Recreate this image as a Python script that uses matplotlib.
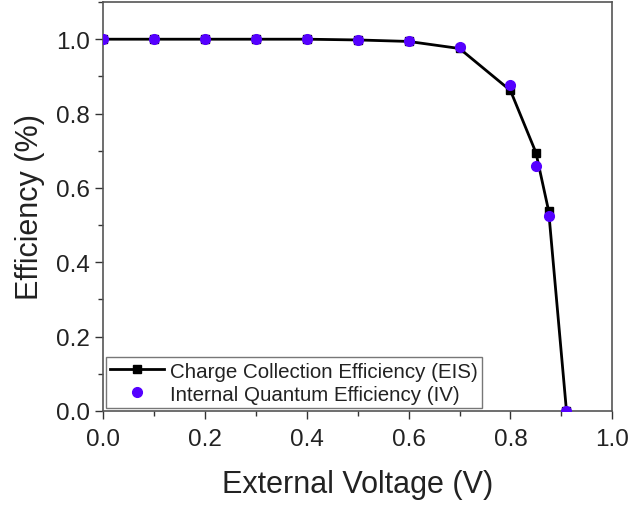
import matplotlib.pyplot as plt
from matplotlib.ticker import MultipleLocator

plt.rcParams['font.family'] = ['Liberation Sans', 'DejaVu Sans']

# charge collection efficiency from EIS
voltage_cce = [0.0, 0.1, 0.2, 0.3, 0.4, 0.5, 0.6, 0.7, 0.8, 0.85, 0.875, 0.91]
cce = [1.0, 1.0, 1.0, 1.0, 1.0, 0.998, 0.994, 0.975, 0.862, 0.695, 0.538, 0.0]

# internal quantum efficiency from IV
voltage_iqe = [0.0, 0.1, 0.2, 0.3, 0.4, 0.5, 0.6, 0.7, 0.8, 0.85, 0.875, 0.91]
iqe = [1.0, 1.0, 1.0, 1.0, 1.0, 0.998, 0.995, 0.978, 0.876, 0.66, 0.524, 0.0]

fig = plt.figure(figsize=(6.28, 5.06), dpi=100)
ax = fig.add_axes([0.164, 0.186, 0.811, 0.808])

ax.plot(voltage_cce, cce, color='black', lw=2, marker='s', ms=5.5,
        label='Charge Collection Efficiency (EIS)', zorder=2)
ax.plot(voltage_iqe, iqe, ls='none', marker='o', ms=7, color='#5500ff',
        label='Internal Quantum Efficiency (IV)', zorder=3)

ax.set_xlim(0, 1.0)
ax.set_ylim(0, 1.1)
ax.xaxis.set_major_locator(MultipleLocator(0.2))
ax.xaxis.set_minor_locator(MultipleLocator(0.1))
ax.yaxis.set_major_locator(MultipleLocator(0.2))
ax.yaxis.set_minor_locator(MultipleLocator(0.1))
ax.set_xticks([0.0, 0.2, 0.4, 0.6, 0.8, 1.0])
ax.set_yticks([0.0, 0.2, 0.4, 0.6, 0.8, 1.0])
ax.tick_params(which='major', length=6, width=1, labelsize=17.5, color='#333333',
               labelcolor='#222222')
ax.tick_params(axis='x', which='major', pad=6)
ax.tick_params(which='minor', length=3.5, width=1, color='#333333')
for s in ax.spines.values():
    s.set_color('#555555')
    s.set_linewidth(1.2)

ax.set_xlabel('External Voltage (V)', fontsize=22, labelpad=14, color='#222222')
ax.set_ylabel('Efficiency (%)', fontsize=22, labelpad=8, color='#222222')

leg = ax.legend(loc='lower left', fontsize=14.8, borderaxespad=0.15,
                frameon=True, fancybox=False, edgecolor='#555555',
                handlelength=2.6, handletextpad=0.3, borderpad=0.2,
                labelspacing=0.2)
leg.get_frame().set_linewidth(1.0)
for t in leg.get_texts():
    t.set_color('#222222')

fig.savefig('out.png', dpi=100)
